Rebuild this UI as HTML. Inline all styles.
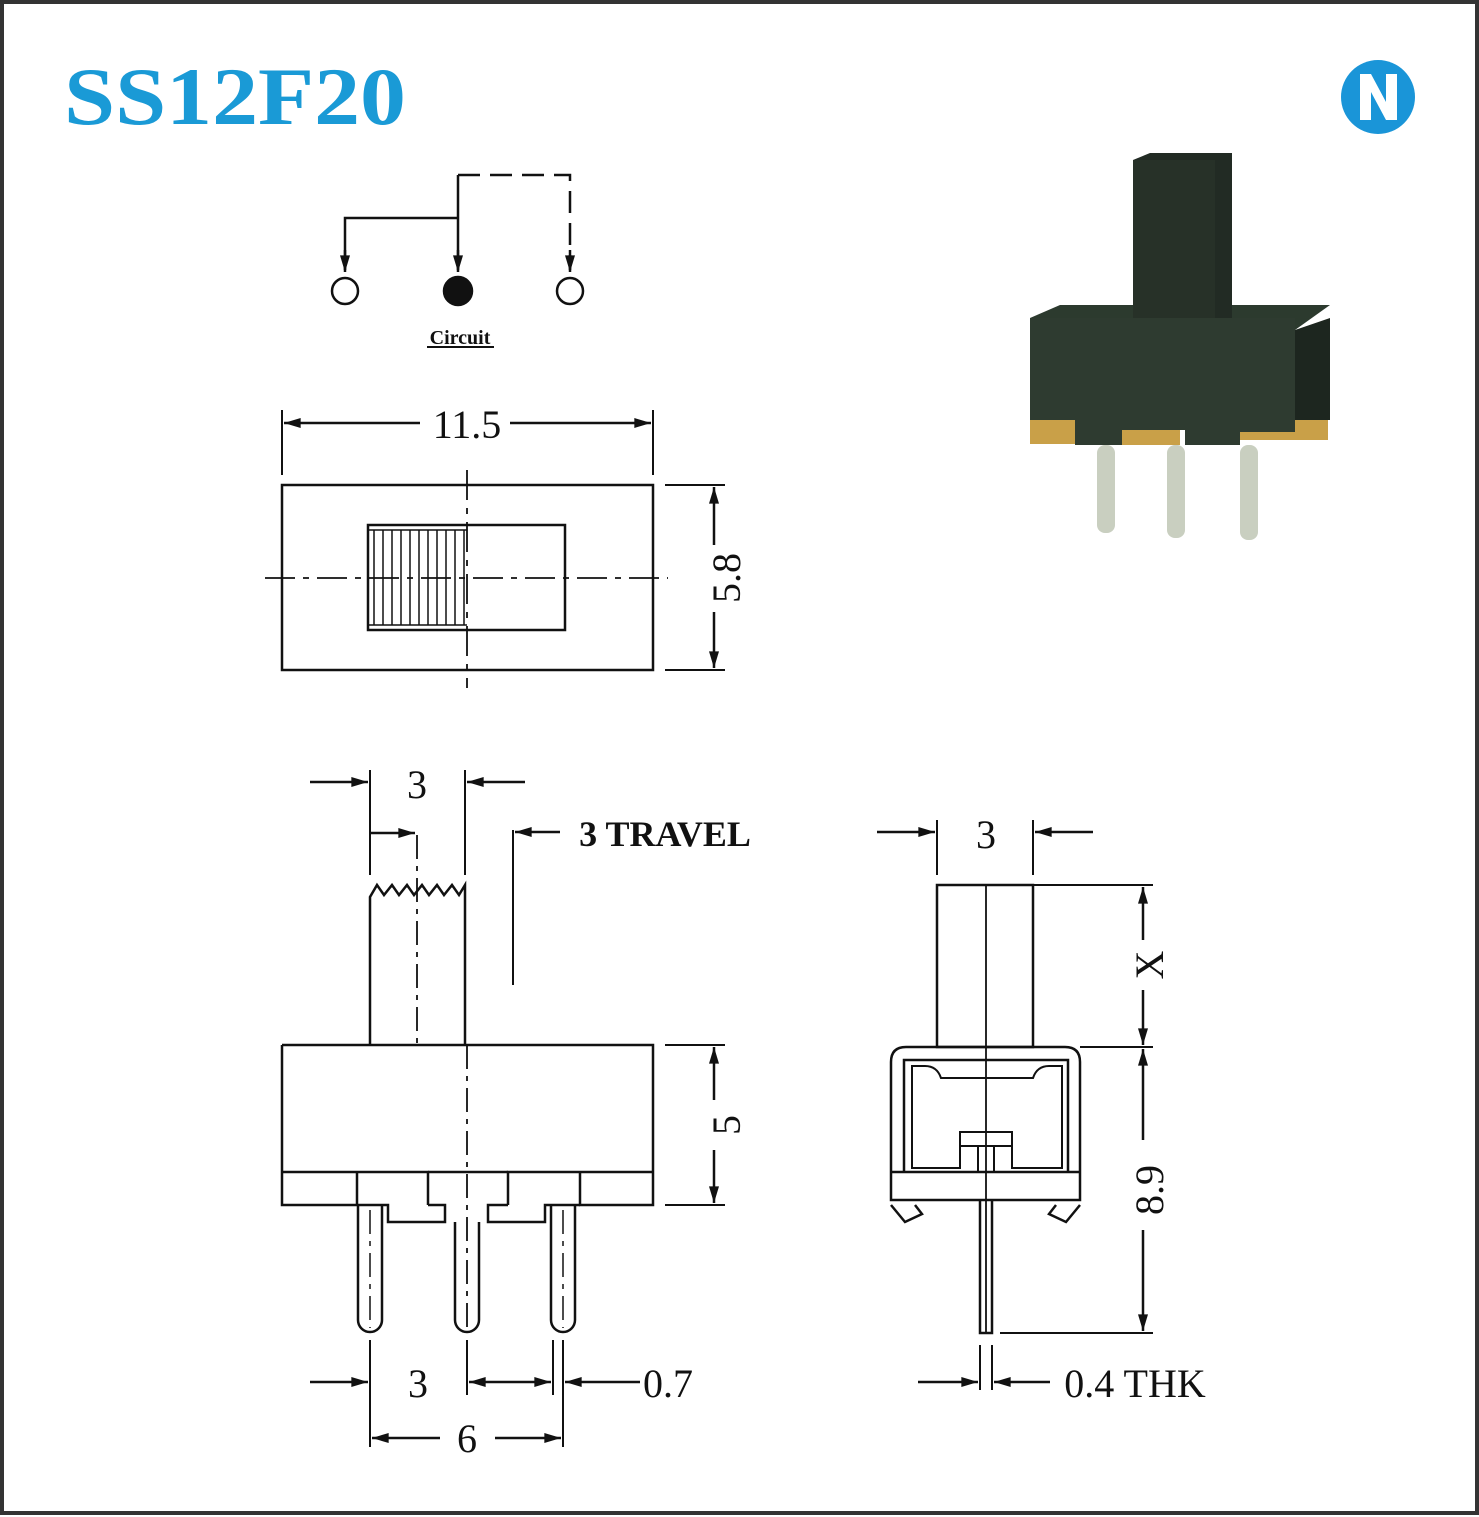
<!DOCTYPE html>
<html><head><meta charset="utf-8"><style>html,body{margin:0;padding:0;background:#fff}svg{display:block}</style></head><body>
<svg width="1479" height="1517" viewBox="0 0 1479 1517" xmlns="http://www.w3.org/2000/svg" font-family="Liberation Serif, serif">
<defs>
<marker id="a" viewBox="0 0 10 6" refX="10" refY="3" markerWidth="26" markerHeight="10" markerUnits="userSpaceOnUse" orient="auto"><path d="M0,0 L10,3 L0,6z" fill="#111"/></marker>
</defs>
<rect x="2" y="2" width="1475" height="1511" fill="#fff" stroke="#333" stroke-width="4"/>
<text x="64" y="124" font-size="82" font-weight="bold" fill="#1a9ad6" textLength="342" lengthAdjust="spacingAndGlyphs">SS12F20</text>
<circle cx="1378" cy="97" r="37" fill="#1a95d8"/>
<path d="M1360,74 h11 l15,28 v-28 h11 v46 h-11 l-15,-28 v28 h-11z" fill="#fff"/>

<g stroke="#111" stroke-width="2.5" fill="none">
<!-- circuit -->
<path d="M345,270 V218 H458"/>
<path d="M458,270 V175"/>
<path d="M458,175 H570 V270" stroke-dasharray="22,10"/>
<path d="M345,250 V272" marker-end="url(#a)"/>
<path d="M458,250 V272" marker-end="url(#a)"/>
<path d="M570,250 V272" marker-end="url(#a)"/>
<circle cx="345" cy="291" r="13"/>
<circle cx="458" cy="291" r="14" fill="#111"/>
<circle cx="570" cy="291" r="13"/>
<!-- top view -->
<rect x="282" y="485" width="371" height="185"/>
<rect x="368" y="525" width="197" height="105"/>
<path d="M374,530V625M383,530V625M392,530V625M401,530V625M410,530V625M419,530V625M428,530V625M437,530V625M446,530V625M455,530V625M464,530V625" stroke-width="1.5"/>
<path d="M368,530H467M368,625H467" stroke-width="1.5"/>
<path d="M265,578H668" stroke-dasharray="30,8,6,8" stroke-width="1.8"/>
<path d="M467,470V688" stroke-dasharray="30,8,6,8" stroke-width="1.8"/>
<path d="M282,410V475M653,410V475" stroke-width="2"/>
<path d="M420,423H284" marker-end="url(#a)"/>
<path d="M510,423H651" marker-end="url(#a)"/>
<path d="M665,485H725M665,670H725" stroke-width="2"/>
<path d="M714,545V487" marker-end="url(#a)"/>
<path d="M714,612V668" marker-end="url(#a)"/>
<!-- side view -->
<path d="M282,1045H653V1205H580V1172H653M282,1045V1205H357V1172H282M357,1172H428V1205M508,1205V1172H580"/>
<path d="M428,1172H508"/>
<path d="M357,1205H388V1222H445V1205H428M508,1205H488V1222H545V1205H580"/>
<path d="M358,1205V1320a12,12 0 0 0 24,0V1205M455,1222V1320a12,12 0 0 0 24,0V1222M551,1205V1320a12,12 0 0 0 24,0V1205"/>
<path d="M370,1210V1328M563,1210V1328" stroke-dasharray="24,7,5,7" stroke-width="1.5"/>
<path d="M467,1045V1330" stroke-dasharray="24,7,5,7" stroke-width="1.8"/>
<path d="M370,1045V897l7,-12l7,10l8,-10l7,10l8,-10l7,10l8,-10l7,10l8,-10l7,10l8,-10l7,10l6,-10V1045"/>
<path d="M417,835V1045" stroke-dasharray="24,7,5,7" stroke-width="1.8"/>
<path d="M370,770V875M465,770V875" stroke-width="2"/>
<path d="M310,782H368" marker-end="url(#a)"/>
<path d="M525,782H467" marker-end="url(#a)"/>
<path d="M370,833H415" marker-end="url(#a)"/>
<path d="M513,830V985" stroke-width="2"/>
<path d="M560,832H515" marker-end="url(#a)"/>
<path d="M665,1045H725M665,1205H725" stroke-width="2"/>
<path d="M714,1100V1047" marker-end="url(#a)"/>
<path d="M714,1150V1203" marker-end="url(#a)"/>
<path d="M370,1340V1447M467,1340V1395M553,1340V1395M563,1340V1447" stroke-width="2"/>
<path d="M310,1382H368" marker-end="url(#a)"/>
<path d="M510,1382H469" marker-end="url(#a)"/>
<path d="M510,1382H551" marker-end="url(#a)"/>
<path d="M640,1382H565" marker-end="url(#a)"/>
<path d="M440,1438H372" marker-end="url(#a)"/>
<path d="M495,1438H561" marker-end="url(#a)"/>
<!-- right view -->
<rect x="937" y="885" width="96" height="162"/>
<path d="M986,885V1333" stroke-width="1.8"/>
<path d="M1033,885H1153M1080,1047H1153M1000,1333H1153" stroke-width="2"/>
<path d="M891,1200V1062q0,-15 15,-15H1065q15,0 15,15V1200Z"/>
<path d="M904,1172V1060H1068V1172"/>
<path d="M912,1168V1066H925q12,0 16,12H1033q4,-12 16,-12H1062V1168H1012V1132H960V1168Z" stroke-width="2"/>
<path d="M891,1172H1080"/>
<path d="M960,1146H1012M978,1146V1172M994,1146V1172" stroke-width="2"/>
<path d="M891,1205L905,1222L922,1214L915,1205M1080,1205L1066,1222L1049,1214L1056,1205"/>
<path d="M980,1200V1333H992V1200"/>
<path d="M937,820V875M1033,820V875" stroke-width="2"/>
<path d="M877,832H935" marker-end="url(#a)"/>
<path d="M1093,832H1035" marker-end="url(#a)"/>
<path d="M1143,940V887" marker-end="url(#a)"/>
<path d="M1143,990V1045" marker-end="url(#a)"/>
<path d="M1143,1140V1049" marker-end="url(#a)"/>
<path d="M1143,1230V1331" marker-end="url(#a)"/>
<path d="M980,1345V1390M992,1345V1390" stroke-width="2"/>
<path d="M918,1382H978" marker-end="url(#a)"/>
<path d="M1050,1382H994" marker-end="url(#a)"/>
</g>
<g fill="#111" font-size="40" text-anchor="middle">
<text x="460" y="344" font-size="20" font-weight="bold">Circuit</text>
<path d="M427,347H494" stroke="#111" stroke-width="2"/>
<text x="467" y="438">11.5</text>
<text transform="translate(740,578) rotate(-90)">5.8</text>
<text x="417" y="798">3</text>
<text x="665" y="846" font-size="36" font-weight="bold">3  TRAVEL</text>
<text transform="translate(740,1125) rotate(-90)">5</text>
<text x="418" y="1397">3</text>
<text x="668" y="1397">0.7</text>
<text x="467" y="1452">6</text>
<text x="986" y="848">3</text>
<text transform="translate(1163,965) rotate(-90)">X</text>
<text transform="translate(1163,1190) rotate(-90)">8.9</text>
<text x="1135" y="1397" font-size="40">0.4  THK</text>
</g>
<!-- photo -->
<g>
<rect x="1097" y="445" width="18" height="88" rx="8" fill="#c9cfc0"/>
<rect x="1167" y="445" width="18" height="93" rx="8" fill="#c9cfc0"/>
<rect x="1240" y="445" width="18" height="95" rx="8" fill="#c9cfc0"/>
<path d="M1030,418H1075V444H1030Z M1122,422H1180V445H1122Z M1240,432L1300,418H1328V440H1240Z" fill="#c9a048"/>
<path d="M1295,330L1330,318V420H1295Z" fill="#1d261f"/>
<path d="M1030,318L1060,305H1330L1295,330H1030Z" fill="#2c3a2e"/>
<path d="M1030,318H1295V432H1240V445H1185V430H1122V445H1075V420H1030Z" fill="#2e3b30"/>
<path d="M1133,160L1150,153H1232V318H1133Z" fill="#222b24"/>
<rect x="1133" y="160" width="82" height="158" fill="#273128"/>
</g>
</svg>
</body></html>
